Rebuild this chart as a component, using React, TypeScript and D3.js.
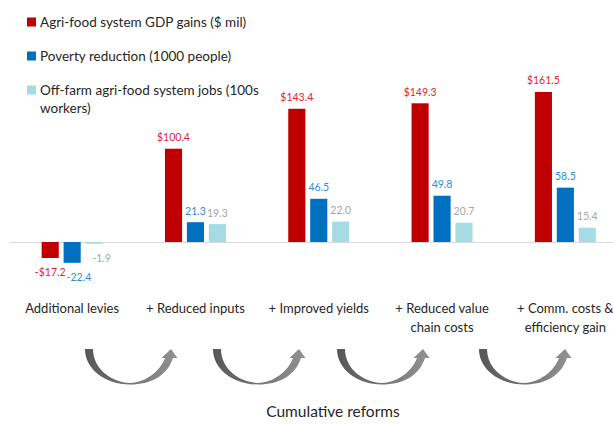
import React, { useEffect, useRef } from 'react';
import * as d3 from 'd3';

const CATEGORIES = [
  ['Additional levies'],
  ['+ Reduced inputs'],
  ['+ Improved yields'],
  ['+ Reduced value', 'chain costs'],
  ['+ Comm. costs &', 'efficiency gain'],
];

const SERIES = [
  { key: 'gdp', label: ['Agri-food system GDP gains ($ mil)'], color: '#C00000', text: '#E0262A', prefix: '$' },
  { key: 'poverty', label: ['Poverty reduction (1000 people)'], color: '#0070C0', text: '#2F8BD6', prefix: '' },
  { key: 'jobs', label: ['Off-farm agri-food system jobs (100s', 'workers)'], color: '#A5DCE4', text: '#A6A6A6', prefix: '' },
];

const GDP = [-17.2, 100.4, 143.4, 149.3, 161.5];
const POVERTY = [-22.4, 21.3, 46.5, 49.8, 58.5];
const JOBS = [-1.9, 19.3, 22.0, 20.7, 15.4];

const WIDTH = 613;
const HEIGHT = 424;
const FONT = 'Lato, "Open Sans", sans-serif';

// curved arrow, relative to its top-left corner
const ARROW_PATH =
  'M0,0 L8,0 C8,18 24,33 45,34 C62,33 75,22 80,9 L76.5,9 L86,0 L92.5,9 L88,9 C82,27 66,35.5 45,35.5 C20,35.5 0,20 0,0 Z';
const ARROW_X = [85, 213, 337, 479];

export default function App() {
  const svgRef = useRef<SVGSVGElement>(null);

  useEffect(() => {
    if (!svgRef.current) return;
    const svg = d3.select(svgRef.current);
    svg.selectAll('*').remove();

    const values = [GDP, POVERTY, JOBS];
    const baseY = 242;
    const pxPerUnit = 0.929;

    const x0 = d3
      .scaleBand<number>()
      .domain(d3.range(CATEGORIES.length))
      .range([10.5, 10.5 + 123.3 * CATEGORIES.length]);
    const x1 = d3
      .scaleBand<number>()
      .domain(d3.range(SERIES.length))
      .range([-30.5, 30.5])
      .paddingInner(0.22);
    const y = d3
      .scaleLinear()
      .domain([-40, 180])
      .range([baseY + 40 * pxPerUnit, baseY - 180 * pxPerUnit]);

    const defs = svg.append('defs');
    const grad = defs.append('linearGradient').attr('id', 'arrowGrad').attr('x1', 0).attr('x2', 1).attr('y1', 0).attr('y2', 0);
    grad.append('stop').attr('offset', '0%').attr('stop-color', '#575757');
    grad.append('stop').attr('offset', '100%').attr('stop-color', '#929292');

    // legend
    const legend = svg.append('g');
    SERIES.forEach((s, i) => {
      const ly = 22 + i * 34;
      legend.append('rect').attr('x', 27).attr('y', ly - 4.5).attr('width', 9).attr('height', 9).attr('fill', s.color);
      s.label.forEach((line, j) => {
        legend
          .append('text')
          .attr('x', 40)
          .attr('y', ly + 5 + j * 18)
          .attr('font-family', FONT)
          .attr('font-size', '13.5px')
          .attr('fill', '#262626')
          .text(line);
      });
    });

    // baseline
    svg
      .append('line')
      .attr('x1', 10)
      .attr('x2', WIDTH)
      .attr('y1', y(0) + 0.5)
      .attr('y2', y(0) + 0.5)
      .attr('stroke', '#D9D9D9')
      .attr('stroke-width', 1);

    // bars + labels
    CATEGORIES.forEach((cat, ci) => {
      const cx = x0(ci)! + x0.bandwidth() / 2;
      let prevRight = -Infinity; // right edge of the previous negative label in this group
      SERIES.forEach((s, si) => {
        const v = values[si][ci];
        const bx = cx + x1(si)!;
        const top = Math.min(y(v), y(0));
        const h = Math.abs(y(v) - y(0));
        svg
          .append('rect')
          .attr('x', bx)
          .attr('y', top)
          .attr('width', x1.bandwidth())
          .attr('height', h)
          .attr('fill', s.color);
        const label = v < 0 ? `-${s.prefix}${Math.abs(v).toFixed(1)}` : `${s.prefix}${v.toFixed(1)}`;
        const t = svg
          .append('text')
          .attr('x', bx + x1.bandwidth() / 2)
          .attr('y', v < 0 ? y(v) + 18 : y(v) - 7.5)
          .attr('text-anchor', 'middle')
          .attr('font-family', FONT)
          .attr('font-size', '10.5px')
          .attr('fill', s.text)
          .text(label);
        if (v < 0) {
          // nudge negative labels that would run into their neighbour
          const box = (t.node() as SVGTextElement).getBBox();
          const shift = Math.max(0, prevRight + 1 - box.x);
          if (shift > 0) t.attr('x', bx + x1.bandwidth() / 2 + shift);
          prevRight = box.x + shift + box.width;
        }
      });

      cat.forEach((line, li) => {
        svg
          .append('text')
          .attr('x', cx)
          .attr('y', 312.5 + li * 19)
          .attr('text-anchor', 'middle')
          .attr('font-family', FONT)
          .attr('font-size', '13px')
          .attr('fill', '#262626')
          .text(line);
      });
    });

    // arrows
    ARROW_X.forEach(ax => {
      svg
        .append('path')
        .attr('transform', `translate(${ax},349)`)
        .attr('d', ARROW_PATH)
        .attr('fill', 'url(#arrowGrad)');
    });

    svg
      .append('text')
      .attr('x', 333)
      .attr('y', 417)
      .attr('text-anchor', 'middle')
      .attr('font-family', FONT)
      .attr('font-size', '15.5px')
      .attr('fill', '#262626')
      .text('Cumulative reforms');
  }, []);

  return (
    <div style={{ position: 'fixed', left: 0, top: 0, background: '#fff' }}>
      <svg ref={svgRef} width={WIDTH} height={HEIGHT} />
    </div>
  );
}
